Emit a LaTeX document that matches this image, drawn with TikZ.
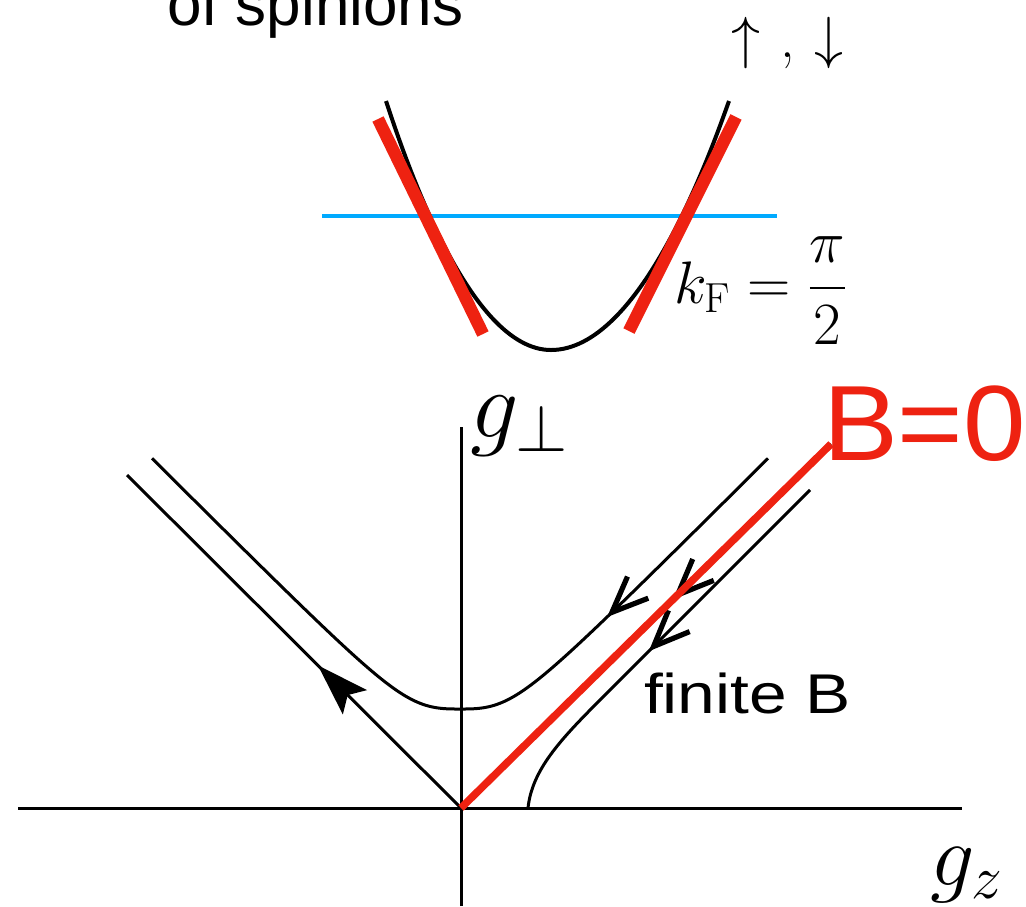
\RequirePackage{fix-cm}
\documentclass[tikz,border=0pt]{standalone}
\usepackage{fontspec}
\usepackage{amsmath}
\newfontfamily\labelsans{Liberation Sans}
\usetikzlibrary{arrows.meta,decorations.markings}
\definecolor{bred}{RGB}{238,34,17}
\definecolor{fermi}{RGB}{0,170,255}
\begin{document}
\begin{tikzpicture}[x=0.5pt,y=-0.5pt,
  axisline/.style={line width=1.5pt},
  flowline/.style={line width=1.5pt},
  openhead/.style={postaction={decorate},decoration={markings,
     mark=at position #1 with {\arrow{Straight Barb[length=18pt,width=15pt,line width=2.6pt]}}}},
  filledhead/.style={postaction={decorate},decoration={markings,
     mark=at position #1 with {\arrow{Stealth[length=26pt,width=17pt,inset=5pt]}}}},
  txt/.style={anchor=base west,inner sep=0pt,outer sep=0pt}]
\useasboundingbox (0,0) rectangle (1026,906);

% ---------- dispersion of spinons ----------
\node[txt,font=\labelsans\fontsize{31pt}{31pt}\selectfont] (spin) at (167,25) {of spinions};
\node[txt,font=\fontsize{29pt}{29pt}\selectfont] (spins) at (731,57) {$\uparrow$\hspace{10pt},\hspace{10pt}$\downarrow$};

\coordinate (muL) at (322,216);
\coordinate (muR) at (777,216);
\draw[fermi,line width=2.4pt] (muL) -- (muR);

\coordinate (pL) at (386,101);
\coordinate (pB) at (551,350);
\coordinate (pR) at (729,101);
\draw[line width=2pt] (pL) parabola bend (pB) (pR);

\coordinate (rLt) at (378,119);
\coordinate (rLb) at (483,334);
\coordinate (rRt) at (736,117);
\coordinate (rRb) at (629,331);
\draw[bred,line width=6.2pt] (rLt) -- (rLb);
\draw[bred,line width=6.2pt] (rRt) -- (rRb);

\node[txt,font=\fontsize{30pt}{30pt}\selectfont] (kF) at (674,303) {$\displaystyle k_{\mathrm{F}} = \frac{\pi}{2}$};

% ---------- RG flow ----------
\coordinate (O) at (461,808);
\coordinate (xL) at (18,808);
\coordinate (xR) at (962,808);
\coordinate (yB) at (461,906);
\coordinate (yT) at (461,427);
\draw[axisline] (xL) -- (xR);
\draw[axisline] (yB) -- (yT);

% curved flow (hyperbola-like)
\draw[flowline,openhead=113pt] plot[domain=0:616,samples=160,variable=\t]
  ({768-\t},{767-58*(1+(abs(308-\t)/58)^3)^(1/3)});

% outgoing separatrix
\coordinate (sepEnd) at (127,475);
\draw[flowline,filledhead=101pt] (O) -- (sepEnd);

% lower right flow
\coordinate (lrS) at (810,490);
\coordinate (lrM) at (600,700);
\coordinate (lrE) at (528,808);
\draw[flowline,openhead=114pt] (lrS) -- (lrM) .. controls (560,740) and (532,770) .. (lrE);

% B=0 line
\coordinate (Btop) at (831,444);
\draw[flowline,openhead=111pt] (Btop) -- (O);
\draw[bred,line width=3.75pt] (Btop) -- (O);

\node[txt,text=bred,font=\labelsans\fontsize{53.5pt}{54pt}\selectfont] (b0) at (823,460) {\scalebox{1.05}[1]{B=0}};
\node[txt,font=\labelsans\fontsize{28pt}{28pt}\selectfont] (fb) at (644,713) {\scalebox{1.21}[1]{finite B}};

\node[txt,font=\fontsize{48pt}{48pt}\selectfont] (gperp) at (470,437) {$g_\perp$};
\node[txt,font=\fontsize{44pt}{44pt}\selectfont] (gz) at (930,885) {$g_z$};
\end{tikzpicture}
\end{document}
